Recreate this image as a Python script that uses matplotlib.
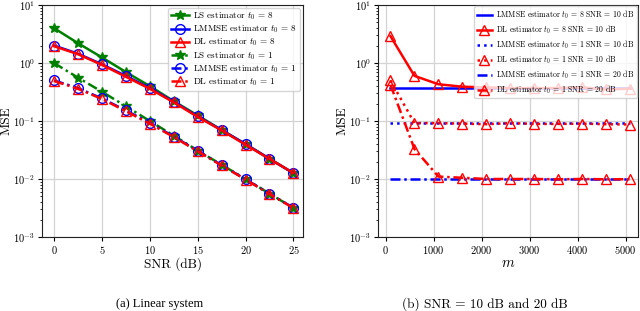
import numpy as np
import matplotlib
matplotlib.use('Agg')
import matplotlib.pyplot as plt

plt.rcParams['font.family'] = 'serif'
plt.rcParams['font.serif'] = ['cmr10', 'DejaVu Serif']
plt.rcParams['mathtext.fontset'] = 'cm'
plt.rcParams['axes.unicode_minus'] = False
plt.rcParams['axes.formatter.use_mathtext'] = True

# (a) linear system
snr = [0, 2.5, 5, 7.5, 10, 12.5, 15, 17.5, 20, 22.5, 25]
ls_t8 = [4.0, 2.2, 1.25, 0.7, 0.4, 0.22, 0.125, 0.07, 0.04, 0.0224, 0.0126]
lmmse_t8 = [2.0, 1.45, 0.95, 0.6, 0.37, 0.215, 0.12, 0.07, 0.04, 0.0223, 0.0126]
dl_t8 = [1.95, 1.42, 0.93, 0.58, 0.36, 0.21, 0.118, 0.069, 0.039, 0.0222, 0.0127]
ls_t1 = [1.0, 0.56, 0.32, 0.18, 0.1, 0.056, 0.031, 0.0176, 0.01, 0.0056, 0.00316]
lmmse_t1 = [0.5, 0.37, 0.245, 0.152, 0.093, 0.054, 0.0305, 0.0173, 0.0099, 0.0056, 0.00318]
dl_t1 = [0.49, 0.36, 0.24, 0.148, 0.09, 0.053, 0.03, 0.0171, 0.0098, 0.0055, 0.00316]

# (b) vs m
m = [100, 600, 1100, 1600, 2100, 2600, 3100, 3600, 4100, 4600, 5100]
lmmse_t8_10 = [0.37] * 11
dl_t8_10 = [2.9, 0.6, 0.43, 0.39, 0.38, 0.37, 0.37, 0.37, 0.38, 0.35, 0.36]
lmmse_t1_10 = [0.093] * 11
dl_t1_10 = [0.5, 0.092, 0.092, 0.09, 0.088, 0.092, 0.089, 0.089, 0.09, 0.088, 0.087]
lmmse_t1_20 = [0.01] * 11
dl_t1_20 = [0.42, 0.033, 0.011, 0.0105, 0.01, 0.01, 0.01, 0.0099, 0.01, 0.0099, 0.0099]

fig = plt.figure(figsize=(6.4, 3.11), dpi=100)
ax1 = fig.add_axes([42 / 640, 1 - 237 / 311, 261 / 640, 232 / 311])
ax2 = fig.add_axes([378 / 640, 1 - 237 / 311, 260 / 640, 232 / 311])

lw = 1.8
ms = 7
dd = (4, 1.5, 1, 1.5)  # dash-dot pattern
ax1.plot(snr, ls_t8, '-', color='green', marker='*', ms=ms + 0.5, lw=lw, label='LS estimator $t_0$ = 8')
ax1.plot(snr, lmmse_t8, '-', color='blue', marker='o', mfc='none', ms=ms, lw=lw, label='LMMSE estimator $t_0$ = 8')
ax1.plot(snr, dl_t8, '-', color='red', marker='^', mfc='none', ms=ms, lw=lw, label='DL estimator $t_0$ = 8')
ax1.plot(snr, ls_t1, color='green', ls=(0, dd), marker='*', ms=ms + 0.5, lw=lw, label='LS estimator $t_0$ = 1')
ax1.plot(snr, lmmse_t1, color='blue', ls=(0, dd), marker='o', mfc='none', ms=ms, lw=lw, label='LMMSE estimator $t_0$ = 1')
ax1.plot(snr, dl_t1, color='red', ls=(0, dd), marker='^', mfc='none', ms=ms, lw=lw, label='DL estimator $t_0$ = 1')
ax1.set_yscale('log')
ax1.set_ylim(1e-3, 1e1)
ax1.set_xlim(-1.25, 26.0)
ax1.set_xticks([0, 5, 10, 15, 20, 25])
ax1.set_xlabel('SNR (dB)', fontsize=9.5, labelpad=1)
ax1.set_ylabel('MSE', fontsize=9.5, labelpad=0.5)
ax1.legend(loc='upper right', fontsize=6.6, handlelength=2.0, labelspacing=0.18,
           borderpad=0.3, handletextpad=0.5, borderaxespad=0.3)

ax2.plot(m, lmmse_t8_10, '-', color='blue', lw=lw, label='LMMSE estimator $t_0$ = 8 SNR = 10 dB')
ax2.plot(m, dl_t8_10, '-', color='red', marker='^', mfc='none', ms=ms, lw=lw, label='DL estimator $t_0$ = 8 SNR = 10 dB')
ax2.plot(m, lmmse_t1_10, ':', color='blue', lw=lw, label='LMMSE estimator $t_0$ = 1 SNR = 10 dB')
ax2.plot(m, dl_t1_10, ':', color='red', marker='^', mfc='none', ms=ms, lw=lw, label='DL estimator $t_0$ = 1 SNR = 10 dB')
ax2.plot(m, lmmse_t1_20, color='blue', ls=(0, dd), lw=lw, label='LMMSE estimator $t_0$ = 1 SNR = 20 dB')
ax2.plot(m, dl_t1_20, color='red', ls=(0, dd), marker='^', mfc='none', ms=ms, lw=lw, label='DL estimator $t_0$ = 1 SNR = 20 dB')
ax2.set_yscale('log')
ax2.set_ylim(1e-3, 1e1)
ax2.set_xlim(-160, 5260)
ax2.set_xticks([0, 1000, 2000, 3000, 4000, 5000])
ax2.set_xlabel('$m$', fontsize=10.5, labelpad=0)
ax2.set_ylabel('MSE', fontsize=9.5, labelpad=0.5)
ax2.legend(loc='upper right', fontsize=5.6, handlelength=2.0, labelspacing=0.35,
           borderpad=0.3, handletextpad=0.5, borderaxespad=0.15)

for ax in (ax1, ax2):
    ax.grid(True, color='#d3d3d3', lw=0.9)
    ax.tick_params(labelsize=7.5, length=3, pad=2)
    ax.tick_params(which='minor', length=1.8)
    for s in ax.spines.values():
        s.set_color('#222222')

fig.text(0.25, 0.023, '(a) Linear system', ha='center', va='center', fontsize=9,
         family='Liberation Serif')
fig.text(0.757, 0.023, '(b) SNR = 10 dB and 20 dB', ha='center', va='center', fontsize=9.5)

fig.savefig('out.png', dpi=100)
